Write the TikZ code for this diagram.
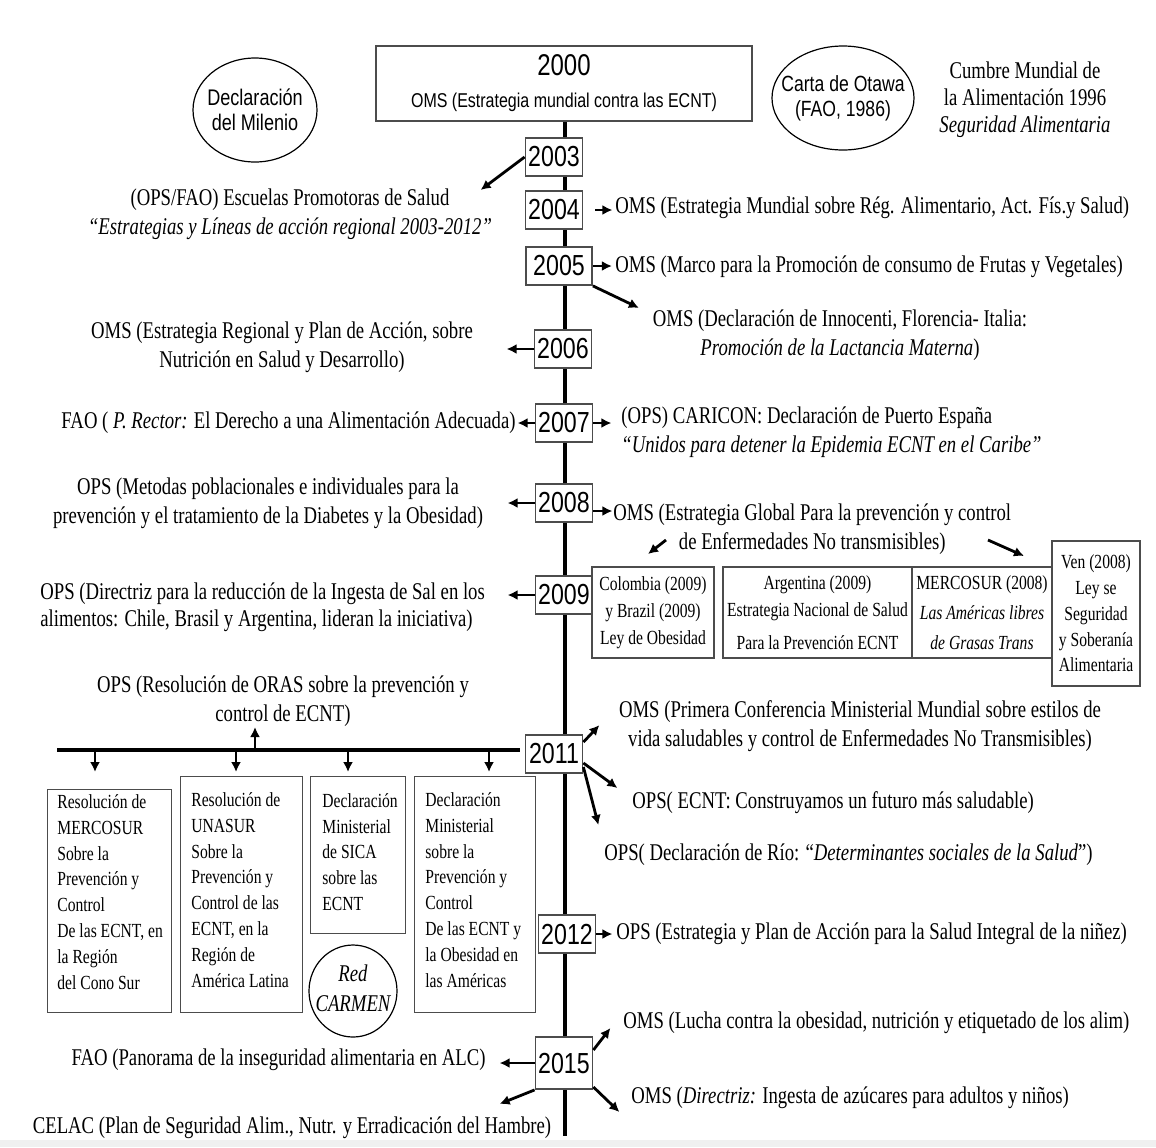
\documentclass[tikz,border=0pt]{standalone}
\usepackage{fontspec}
\setmainfont{Liberation Serif}[FakeStretch=0.78]
\newfontfamily\arialc{Liberation Sans}[FakeStretch=0.8]
\usetikzlibrary{arrows.meta}

\begin{document}
\begin{tikzpicture}[x=0.5pt, y=-0.5pt,
	yr/.style={draw=black!70, line width=0.9pt, fill=white, minimum width=28.5pt, minimum height=19pt, inner sep=0pt, font=\arialc\fontsize{14.5}{16}\selectfont},
	txt/.style={inner sep=1pt, align=center, font=\fontsize{12}{14.5}\selectfont},
	sbox/.style={draw=black!70, line width=0.7pt, inner sep=0pt},
	stxt/.style={inner sep=0pt, align=left, font=\fontsize{10}{12.9}\selectfont},
	arr/.style={-{Latex[length=5pt, width=5pt]}, line width=1.4pt}]
			\useasboundingbox (0,0) rectangle (1156,1147);
			\fill[black!6] (0,1140) rectangle (1156,1147);
			\coordinate (top) at (565,121);
			\coordinate (bot) at (565,1136);
			\draw[line width=2pt] (top)--(bot);
			\node[draw=black!70, line width=0.8pt, fill=white, minimum width=188pt, minimum height=37.5pt, align=center, inner sep=0pt] (y2000) at (564,83.5) {{\arialc\fontsize{15}{17}\selectfont 2000}\\[4pt]{\arialc\fontsize{10}{12}\selectfont OMS (Estrategia mundial contra las ECNT)}};
			\node[align=center, font=\arialc\fontsize{11.3}{12.5}\selectfont] (milenio) at (255,110) {Declaración\\del Milenio};
			\draw[line width=0.6pt] (milenio) ellipse [x radius=62, y radius=52];
			\node[align=center, font=\arialc\fontsize{11}{12.5}\selectfont] (otawa) at (843,98) {Carta de Otawa\\(FAO, 1986)};
			\draw[line width=0.6pt] (otawa) ellipse [x radius=71, y radius=52];
			\node[txt, font=\fontsize{12}{13.5}\selectfont] (cumbre) at (1025,100) {Cumbre Mundial de\\la Alimentación 1996\\\textit{Seguridad Alimentaria}};
			\node[yr] (y2003) at (554,157) {2003};
			\node[yr] (y2004) at (554,210) {2004};
			\node[yr, minimum width=33pt] (y2005) at (559,266) {2005};
			\node[yr] (y2006) at (563,349) {2006};
			\node[yr] (y2007) at (564,423) {2007};
			\node[yr] (y2008) at (564,503) {2008};
			\node[yr] (y2009) at (564,595) {2009};
			\node[yr] (y2011) at (554,754) {2011};
			\node[yr] (y2012) at (567,934) {2012};
			\node[yr, minimum height=26pt] (y2015) at (564,1063) {2015};
			\node[txt] (t2003) at (290,214) {(OPS/FAO) Escuelas Promotoras de Salud\\\textit{“Estrategias y Líneas de acción regional 2003-2012”}};
			\node[txt, anchor=west] (t2004) at (613,208) {OMS (Estrategia Mundial sobre Rég. Alimentario, Act. Fís.y Salud)};
			\node[txt, anchor=west] (t2005) at (613,267) {OMS (Marco para la Promoción de consumo de Frutas y Vegetales)};
			\node[txt] (t2005b) at (840,335) {OMS (Declaración de Innocenti, Florencia- Italia:\\\textit{Promoción de la Lactancia Materna})};
			\node[txt] (t2006) at (282,347) {OMS (Estrategia Regional y Plan de Acción, sobre\\Nutrición en Salud y Desarrollo)};
			\node[txt, anchor=east] (t2007l) at (518,423) {FAO ( \textit{P. Rector:} El Derecho a una Alimentación Adecuada)};
			\node[txt, anchor=west, align=left] (t2007r) at (619,432) {(OPS) CARICON: Declaración de Puerto España\\\textit{“Unidos para detener la Epidemia ECNT en el Caribe”}};
			\node[txt] (t2008l) at (268,503) {OPS (Metodas poblacionales e individuales para la\\prevención y el tratamiento de la Diabetes y la Obesidad)};
			\node[txt, anchor=west] (t2008r) at (611,529) {OMS (Estrategia Global Para la prevención y control\\de Enfermedades No transmisibles)};
			\node[txt, anchor=west, align=left, font=\fontsize{12}{13.5}\selectfont] (t2009) at (38,607) {OPS (Directriz para la reducción de la Ingesta de Sal en los\\alimentos: Chile, Brasil y Argentina, lideran la iniciativa)};
			\node[sbox, stxt, align=center, font=\fontsize{10}{13.5}\selectfont, minimum width=61pt, minimum height=45.5pt] (b09a) at (653,612.5) {Colombia (2009)\\y Brazil (2009)\\Ley de Obesidad};
			\node[sbox, stxt, align=center, font=\fontsize{10}{13.5}\selectfont, minimum width=94.5pt, minimum height=45.5pt] (b09b) at (817.5,612.5) {Argentina (2009)\\Estrategia Nacional de Salud\\[3pt]Para la Prevención ECNT};
			\node[sbox, stxt, align=center, font=\fontsize{10}{15}\selectfont, minimum width=70pt, minimum height=45.5pt] (b09c) at (982,612.5) {MERCOSUR (2008)\\\textit{Las Américas libres}\\\textit{de Grasas Trans}};
			\node[sbox, stxt, align=center, minimum width=44pt, minimum height=72.5pt] (b09d) at (1096,613.5) {Ven (2008)\\Ley se\\Seguridad\\y Soberanía\\Alimentaria};
			\node[txt] (toras) at (283,701) {OPS (Resolución de ORAS sobre la prevención y\\control de ECNT)};
			\node[txt] (t2011a) at (860,726) {OMS (Primera Conferencia Ministerial Mundial sobre estilos de\\vida saludables y control de Enfermedades No Transmisibles)};
			\node[txt, anchor=west] (t2011b) at (630,803) {OPS( ECNT: Construyamos un futuro más saludable)};
			\node[txt, anchor=west] (t2011c) at (602,855) {OPS( Declaración de Río: “\textit{Determinantes sociales de la Salud}”)};
			\node[txt, anchor=west] (t2012) at (614,934) {OPS (Estrategia y Plan de Acción para la Salud Integral de la niñez)};
			\node[txt, anchor=west] (t2015a) at (621,1023) {OMS (Lucha contra la obesidad, nutrición y etiquetado de los alim)};
			\node[txt, anchor=west] (t2015b) at (629,1098) {OMS (\textit{Directriz:} Ingesta de azúcares para adultos y niños)};
			\node[txt, anchor=east] (t2015c) at (488,1060) {FAO (Panorama de la inseguridad alimentaria en ALC)};
			\node[txt] (t2015d) at (292,1128) {CELAC (Plan de Seguridad Alim., Nutr. y Erradicación del Hambre)};
			\node[sbox, anchor=north west, minimum width=62pt, minimum height=111.5pt] (bA) at (47,789) {};
			\node[sbox, anchor=north west, minimum width=61pt, minimum height=118pt] (bB) at (180,776) {};
			\node[sbox, anchor=north west, minimum width=47.5pt, minimum height=78.5pt] (bC) at (310,776) {};
			\node[sbox, anchor=north west, minimum width=60.5pt, minimum height=118pt] (bD) at (414,776) {};
			\node[stxt, anchor=west] (tA) at (57,892) {Resolución de\\MERCOSUR\\Sobre la\\Prevención y\\Control\\De las ECNT, en\\la Región\\del Cono Sur};
			\node[stxt, anchor=west] (tB) at (191,890) {Resolución de\\UNASUR\\Sobre la\\Prevención y\\Control de las\\ECNT, en la\\Región de\\América Latina};
			\node[stxt, anchor=west] (tC) at (322,852) {Declaración\\Ministerial\\de SICA\\sobre las\\ECNT};
			\node[stxt, anchor=west] (tD) at (425,890) {Declaración\\Ministerial\\sobre la\\Prevención y\\Control\\De las ECNT y\\la Obesidad en\\las Américas};
			\node[align=center, font=\itshape\fontsize{12}{15}\selectfont] (carmen) at (353,988) {Red\\CARMEN};
			\draw[line width=0.6pt] (353,991) ellipse [x radius=44, y radius=46];
			\coordinate (barL) at (57,750);
			\coordinate (barR) at (520,750);
			\draw[line width=2pt] (barL)--(barR);
			\draw[arr] (255,750)--++(0,-23);
			\foreach \x in {95,236,348,489}
				\draw[arr] (\x,750)--++(0,22);
			\draw[arr] (y2003.west)--++(-44,33);
			\draw[arr] ([xshift=6pt]y2004.east)--++(17,0);
			\draw[arr] (y2005.east)--++(19,0);
			\draw[arr] (y2005.south east)--++(46,22);
			\draw[arr] (y2006.west)--++(-27,0);
			\draw[arr] (y2007.west)--++(-17,0);
			\draw[arr] (y2007.east)--++(18,0);
			\draw[arr] (y2008.west)--++(-27,0);
			\draw[arr] ([yshift=-4pt]y2008.east)--++(19,0);
			\draw[arr] (666,540)--++(-18,14);
			\draw[arr] (988,540)--++(36,16);
			\draw[arr] (y2009.west)--++(-27,0);
			\draw[arr] ([yshift=-4pt]y2011.north east)--++(16,-17);
			\draw[arr] ([yshift=-4.5pt]y2011.east)--++(34,25);
			\draw[arr] ([yshift=-6.5pt]y2011.east)--++(15,58);
			\draw[arr] (y2012.east)--++(16,0);
			\draw[arr] ([yshift=6.5pt]y2015.east)--++(17,-22);
			\draw[arr] ([yshift=-12pt]y2015.east)--++(26,25);
			\draw[arr] (y2015.west)--++(-35,0);
			\draw[arr] (y2015.south west)--++(-35,14);
		\end{tikzpicture}
\end{document}
